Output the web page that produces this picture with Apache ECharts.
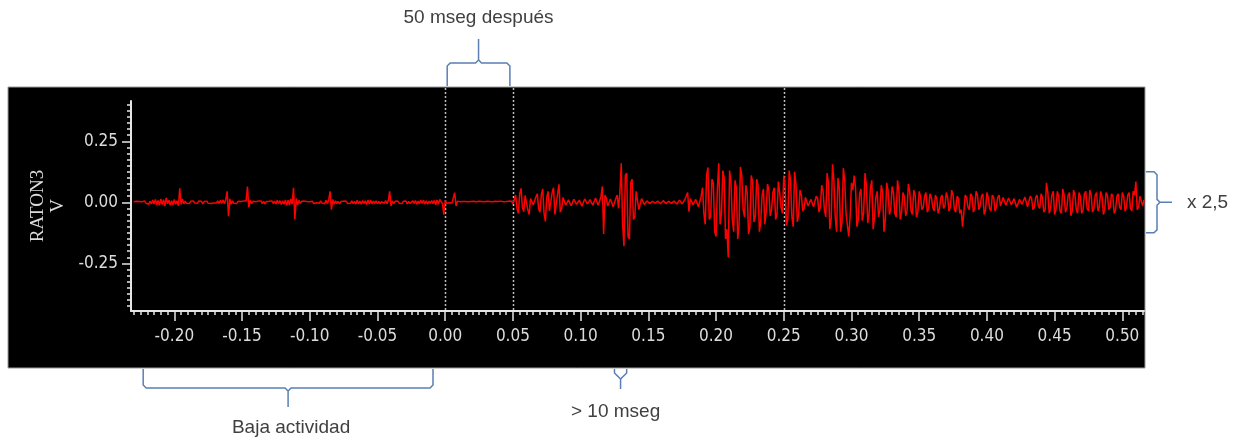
<!DOCTYPE html>
<html>
<head>
<meta charset="utf-8">
<script src="https://cdn.jsdelivr.net/npm/echarts@6/dist/echarts.min.js"></script>
<style>
html, body { margin: 0; padding: 0; background: #fff; }
#chart { width: 1237px; height: 439px; }
</style>
</head>
<body>
<div id="chart"></div>
<script>
// registro RATON3, una muestra por ms desde -0.230 s (valores en mV)
var t0 = -0.230;
var dt = 0.001;
var raton3_mV = [
    2, -3, 4, -1, 3, -5, 2, -4, 6, -3, 5, -8, 4, -6, 10, -7, 12, -10, 8, -12,                 // -0.23
    14, -9, 11, -15, 18, -6, 9, -12, 7, -10, 12, -8, 6, -14, 57, -9, 14, -6, 5, -4,
    3, -5, 4, -2, 6, -3, 2, -4, 5, -3, 4, -6, 3, -2, 5, -4, 3, -5, 2, -3,
    4, -3, 6, -5, 8, -4, 10, -6, 12, 45, -57, 14, -8, 6, -4, 3, -5, 4, -2, 3,
    -4, 5, -3, 6, 65, -20, 8, -5, 4, -3, 2, -4, 5, -3, 6, -5, 4, -6, 3, -5,
    4, -3, 6, -4, 5, -7, 8, -5, 7, -9, 6, -8, 10, -12, 9, -11, 14, -8, 60, -70,               // -0.13
    16, -10, 8, -5, 4, -3, 5, -2, 3, -4, 2, -3, 4, -5, 3, -2, 5, -4, 6, -3,
    4, -6, 8, -5, 10, 45, -30, 12, -8, 6, -5, 4, -6, 3, -4, 5, -3, 4, -5, 3,
    -4, 6, -5, 4, -7, 8, -6, 5, -8, 7, -5, 6, -9, 10, -7, 8, -6, 5, -4, 6,
    -5, 4, -6, 3, 5, -4, 7, -6, 8, 45, -15, 6, -5, 4, -3, 5, -4, 3, -5, 4,
    -3, 5, -6, 4, -5, 3, 6, -4, 7, -8, 5, -6, 8, -5, 9, -7, 6, -8, 5, -4,                     // -0.03
    7, -6, 8, -10, 10, -8, 12, 15, -6, -50, 8, -4, 3, -2, 4, -3, 5, 40, -15, 5,
    -3, 2, -4, 3, -2, 3, -3, 2, -4, 3, -2, 4, -3, 2, -3, 4, -2, 3, -4, 2,
    -3, 4, -2, 3, -5, 2, -3, 4, -2, 3, -4, 5, -3, 2, -4, 3, -2, 5, -3, 4,
    -6, 12, 30, -25, -45, 35, 57, -20, -38, 28, 25, -30, -50, 15, 20, -10, -15, 22, 35, -28,
    -40, 30, 55, -45, -78, 20, 45, -35, -30, 40, 60, -50, -55, 35, 74, -40, -25, 20, 15, -12,  // 0.07
    -12, 10, 8, -14, -15, 12, 10, -8, -6, 9, 12, -16, -18, 14, 8, -6, -5, 11, 10, -12,
    -14, 18, 20, -12, -10, 22, 65, -130, 30, 18, -15, -12, 14, 15, -18, -20, 16, 30, -25, 40,
    160, -90, -180, 110, 120, -140, -150, 80, 95, -70, -60, 45, 40, -30, -25, 15, 10, -9, -8, 6,
    5, -5, -4, 4, 6, -3, -3, 5, 4, -6, -6, 7, 8, -5, -5, 4, 3, -4, -4, 5,
    6, -7, -8, 9, 10, -6, -6, 12, 20, 40, -38, 15, 8, -10, -5, 12, 12, -18, -20, 25,            // 0.17
    60, -45, -90, 110, 143, -70, -60, 95, 80, -120, -140, 60, 160, -90, -45, 130, 100, -150, -110, -225,
    130, 80, -70, -120, 90, 60, -150, -90, 145, 110, -30, -60, 70, 40, -130, -100, 110, 85, -80, -60,
    95, 70, -120, -80, 30, 55, -90, -40, 75, 50, -55, -30, 40, 60, -70, -50, 85, 40, -20, -45,
    110, 60, -95, -70, 130, 90, -60, -100, 125, 75, -80, -50, 50, 30, -35, -25, 20, 15, -15, -18,
    12, 10, -18, -12, 25, 15, -40, -20, 70, 45, -30, -60, 120, 80, -110, -70, 156, 90, -60, -120, // 0.27
    100, 60, -120, -80, 140, 90, -45, -95, -140, -60, 80, 50, 110, 60, -100, -70, 35, 55, -75, -40,
    120, 70, -85, -50, 60, 90, -110, -60, 20, 45, -60, -30, 70, 40, -120, -70, 80, 50, -50, -30,
    65, 40, -45, -60, 90, 50, -70, -40, 40, 25, -55, -35, 75, 45, -35, -50, 50, 30, -60, -40,
    45, 25, -30, -20, 25, 40, -40, -25, 35, 20, -20, -35, 30, 15, -45, -25, 20, 30, -25, -15,
    40, 20, -35, -20, 50, 30, -30, -40, 25, 15, -45, -30, -100, -40, 30, 20, -20, -30, 35, 25,   // 0.37
    -40, -25, 45, 30, -30, -15, 25, 35, -50, -30, 40, 20, -25, -35, 30, 20, -35, -20, 20, 30,
    -15, -10, 20, 12, -12, -18, 18, 10, -10, -15, 15, 20, -20, -12, 12, 8, -8, -14, 22, 15,
    -18, -10, 25, 15, -30, -20, 20, 30, -15, -25, 35, 20, -40, -30, 80, 40, -45, -25, 30, 45,
    -50, -30, 45, 25, -35, -45, 55, 30, -40, -25, 30, 40, -55, -35, 50, 30, -30, -45, 40, 25,
    -45, -30, 35, 45, -25, -35, 50, 30, -40, -25, 30, 40, -35, -20, 45, 25, -50, -30, 40, 30,    // 0.47
    -30, -20, 35, 25, -45, -30, 25, 35, -20, -30, 40, 25, -35, -20, 30, 40, -25, -35, 45, 30,
    85, -30, -20, 25, 30, -15, 10
];

var xMin = -0.232, xMax = 0.516;
var yMin = -0.445, yMax = 0.415;
var xTickLabels = [-0.20, -0.15, -0.10, -0.05, 0.00, 0.05, 0.10, 0.15, 0.20, 0.25, 0.30, 0.35, 0.40, 0.45, 0.50];
var yTickLabels = [-0.25, 0.00, 0.25];
var markerTimes = [0.00, 0.05, 0.25];

// tramos señalados con llaves
var spanDespues = [0.00, 0.05];
var spanBaja = [-0.223, -0.009];
var spanDiezMs = [0.125, 0.134];
var spanGanancia = [-0.125, 0.125];

var xMinor = [];
for (var k = -46; k <= 103; k++) xMinor.push(+(k * 0.005).toFixed(3));
var yMinor = [];
for (var k = -17; k <= 16; k++) yMinor.push(+(k * 0.025).toFixed(3));

var points = raton3_mV.map(function (v, i) {
    return [+(t0 + i * dt).toFixed(3), v / 1000];
});

var axisColor = '#e6e6e6';
var labelFont = "'Liberation Sans Narrow', 'DejaVu Sans Condensed', sans-serif";
var noteFont = "'Liberation Sans', Arial, sans-serif";
var braceColor = '#5a7fb5';

var chart = echarts.init(document.getElementById('chart'));

var option = {
    animation: false,
    backgroundColor: '#ffffff',
    grid: { left: 131, top: 101, width: 1013, height: 210 },
    xAxis: [{
        type: 'value', position: 'bottom', min: xMin, max: xMax,
        axisLine: { show: true, onZero: false, lineStyle: { color: axisColor, width: 2 } },
        axisTick: { show: true, length: 10, customValues: xTickLabels, lineStyle: { color: axisColor, width: 1.5 } },
        axisLabel: {
            customValues: xTickLabels, margin: 17, color: '#dcdcdc',
            fontFamily: labelFont, fontSize: 17,
            formatter: function (v) { return v.toFixed(2); }
        },
        splitLine: { show: false }
    }, {
        // marcas menores
        type: 'value', position: 'bottom', min: xMin, max: xMax,
        axisLine: { show: false, onZero: false },
        axisTick: { show: true, length: 4, customValues: xMinor, lineStyle: { color: axisColor, width: 1.5 } },
        axisLabel: { show: false },
        splitLine: { show: false }
    }],
    yAxis: [{
        type: 'value', position: 'left', min: yMin, max: yMax,
        name: 'RATON3\nV', nameLocation: 'middle', nameRotate: 90, nameGap: 61,
        nameTextStyle: { color: '#dcdcdc', fontFamily: "'Liberation Serif', serif", fontSize: 19, lineHeight: 20 },
        axisLine: { show: true, onZero: false, lineStyle: { color: axisColor, width: 2 } },
        axisTick: { show: true, length: 9, customValues: yTickLabels, lineStyle: { color: axisColor, width: 1.5 } },
        axisLabel: {
            customValues: yTickLabels, margin: 13, color: '#dcdcdc',
            fontFamily: labelFont, fontSize: 17,
            formatter: function (v) { return v.toFixed(2); }
        },
        splitLine: { show: false }
    }, {
        type: 'value', position: 'left', min: yMin, max: yMax,
        axisLine: { show: false, onZero: false },
        axisTick: { show: true, length: 4, customValues: yMinor, lineStyle: { color: axisColor, width: 1.5 } },
        axisLabel: { show: false },
        splitLine: { show: false }
    }],
    series: [{
        name: 'RATON3',
        type: 'line',
        xAxisIndex: 0,
        yAxisIndex: 0,
        data: points,
        symbol: 'none',
        silent: true,
        z: 3,
        lineStyle: { color: '#ff0000', width: 1.5 }
    }]
};
chart.setOption(option);

// llaves y anotaciones, situadas con las escalas del gráfico
function px(t) { return chart.convertToPixel({ xAxisIndex: 0 }, t); }
function py(v) { return chart.convertToPixel({ yAxisIndex: 0 }, v); }

function braceH(x1, x2, yEnd, yBar, yTip) {
    var r = 3, s = yEnd > yBar ? 1 : -1, xm = (x1 + x2) / 2;
    var st = { stroke: braceColor, lineWidth: 1.5, fill: null };
    return [
        { type: 'polyline', silent: true, style: st, shape: { points: [[x1, yEnd], [x1, yBar + s * r], [x1 + r, yBar], [xm - r, yBar], [xm, yBar - s * r], [xm, yTip]] } },
        { type: 'polyline', silent: true, style: st, shape: { points: [[x2, yEnd], [x2, yBar + s * r], [x2 - r, yBar], [xm + r, yBar], [xm, yBar - s * r]] } }
    ];
}
function braceV(y1, y2, xEnd, xBar, xTip) {
    var r = 3, s = xEnd > xBar ? 1 : -1, ym = (y1 + y2) / 2;
    var st = { stroke: braceColor, lineWidth: 1.5, fill: null };
    return [
        { type: 'polyline', silent: true, style: st, shape: { points: [[xEnd, y1], [xBar + s * r, y1], [xBar, y1 + r], [xBar, ym - r], [xBar - s * r, ym], [xTip, ym]] } },
        { type: 'polyline', silent: true, style: st, shape: { points: [[xEnd, y2], [xBar + s * r, y2], [xBar, y2 - r], [xBar, ym + r], [xBar - s * r, ym]] } }
    ];
}
function note(text, x, y, align) {
    return {
        type: 'text', x: x, y: y, silent: true,
        style: { text: text, fill: '#404040', font: '19px ' + noteFont, align: align || 'center', verticalAlign: 'middle' }
    };
}

var gridBottom = py(yMin);
var els = [{
    type: 'rect', z: -10, silent: true,
    shape: { x: 8, y: 87, width: 1137, height: 281 },
    style: { fill: '#000000', stroke: '#9a9a9a', lineWidth: 1 }
}];
markerTimes.forEach(function (t) {
    var x = Math.round(px(t)) + 0.5;
    els.push({
        type: 'line', z: 1, silent: true,
        shape: { x1: x, y1: 88, x2: x, y2: gridBottom },
        style: { stroke: '#bdbdbd', lineWidth: 1.5, lineDash: [2, 2] }
    });
});

var a = px(spanDespues[0]) + 2, b = px(spanDespues[1]) - 3;
els = els.concat(braceH(a, b, 86, 63, 39));
els.push(note('50 mseg después', (a + b) / 2, 18));

a = px(spanBaja[0]); b = px(spanBaja[1]);
els = els.concat(braceH(a, b, 369, 388, 407));
els.push(note('Baja actividad', (a + b) / 2 + 3, 428));

a = px(spanDiezMs[0]); b = px(spanDiezMs[1]);
els = els.concat(braceH(a, b, 369, 376, 389));
els.push(note('> 10 mseg', (a + b) / 2 - 5, 412));

a = py(spanGanancia[1]); b = py(spanGanancia[0]);
els = els.concat(braceV(a, b, 1146, 1157, 1172));
els.push(note('x 2,5', 1187, (a + b) / 2, 'left'));

chart.setOption({ graphic: els });
</script>
</body>
</html>
